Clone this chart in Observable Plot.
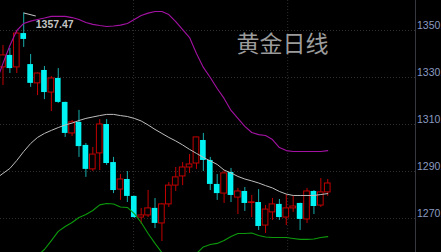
<!DOCTYPE html>
<html>
<head>
<meta charset="utf-8">
<script src="https://cdn.jsdelivr.net/npm/d3@7"></script>
<script src="https://cdn.jsdelivr.net/npm/@observablehq/plot@0.6"></script>
<style>
  html, body { margin: 0; padding: 0; background: #000; overflow: hidden; }
  #chart svg { display: block; overflow: hidden; }
</style>
</head>
<body>
<div id="chart"></div>
<script>
// ---- data ----
const title = "黄金日线";
const opens  = [1334.3,1339.4,1334.3,1348.7,1335.5,1327.5,1333.0,1323.6,1329.6,1319.4,1306.2,1310.9,1301.1,1290.9,1297.7,1310.0,1293.8,1282.3,1286.6,1279.4,1270.4,1271.3,1274.3,1267.9,1276.0,1284.0,1287.9,1291.7,1293.4,1303.2,1294.7,1284.5,1280.6,1289.6,1278.9,1281.5,1276.6,1276.8,1267.0,1272.6,1276.0,1270.4,1274.3,1276.4,1269.6,1281.5,1275.5,1281.1];
const closes = [1339.4,1333.8,1348.7,1346.2,1327.5,1331.7,1323.6,1329.6,1319.4,1306.2,1310.9,1300.6,1290.9,1297.2,1310.0,1293.4,1281.9,1286.6,1279.4,1270.4,1271.3,1274.3,1267.9,1276.0,1284.0,1287.5,1291.7,1293.0,1304.5,1294.7,1284.5,1280.6,1289.2,1279.8,1281.5,1276.4,1276.9,1266.6,1273.8,1276.0,1270.4,1274.3,1275.1,1269.6,1281.5,1275.1,1281.1,1284.9];
const highs  = [1343.6,1342.4,1350.0,1357.47,1339.8,1331.9,1334.7,1330.4,1333.8,1319.5,1311.7,1316.0,1301.9,1300.2,1312.1,1312.1,1296.0,1288.7,1290.0,1279.5,1274.3,1281.9,1278.5,1276.4,1285.3,1291.7,1293.8,1297.2,1304.6,1306.2,1296.0,1288.7,1290.4,1291.3,1282.8,1283.2,1279.8,1282.3,1275.5,1278.5,1278.1,1280.2,1279.4,1276.5,1282.8,1281.9,1287.0,1286.6];
const lows   = [1326.6,1331.7,1331.7,1342.8,1325.8,1322.3,1320.6,1315.5,1319.0,1304.5,1304.9,1296.0,1287.5,1290.0,1290.4,1292.6,1280.6,1277.7,1276.8,1270.0,1267.5,1270.4,1265.7,1260.2,1274.7,1281.5,1284.0,1289.2,1290.9,1290.0,1281.9,1277.7,1276.4,1276.8,1271.7,1273.0,1270.4,1264.9,1263.6,1269.2,1269.2,1267.0,1272.6,1264.9,1267.9,1271.7,1274.7,1279.4];
// Bollinger bands, starting one bar before the first visible candle
const bandStart = -1;
const upperBand = [1327.9,1336.0,1343.6,1350.0,1353.0,1354.0,1354.7,1355.3,1356.0,1356.0,1356.0,1355.5,1354.7,1353.4,1352.6,1352.1,1351.7,1351.9,1352.3,1353.0,1354.7,1356.4,1357.4,1358.1,1358.1,1356.8,1353.8,1350.4,1347.0,1340.2,1334.3,1330.0,1325.3,1321.1,1316.0,1312.6,1309.2,1306.6,1305.7,1305.3,1303.6,1300.2,1298.9,1298.5,1298.5,1298.5,1298.5,1298.5,1298.9];
const midBand   = [1287.0,1289.2,1291.3,1294.7,1298.5,1301.9,1304.5,1306.2,1307.5,1308.7,1309.8,1310.6,1311.7,1312.6,1313.2,1313.8,1314.3,1314.3,1313.8,1313.4,1312.6,1311.5,1309.8,1307.9,1306.2,1304.5,1303.0,1301.3,1299.4,1297.7,1296.0,1294.5,1293.0,1290.6,1289.4,1287.9,1286.8,1286.0,1285.1,1284.0,1283.0,1281.5,1280.4,1279.8,1279.8,1279.8,1279.8,1280.2,1280.6];
const lowerBand = [1246.1,1242.3,1239.0,1239.4,1244.0,1249.8,1254.2,1256.8,1260.6,1264.5,1266.6,1268.3,1270.4,1271.7,1273.4,1275.8,1276.4,1276.2,1274.9,1274.7,1272.1,1268.3,1263.6,1259.4,1255.5,1252.1,1252.2,1252.2,1251.7,1255.1,1257.9,1258.9,1259.4,1260.6,1262.3,1263.6,1263.6,1263.8,1262.8,1262.1,1261.9,1261.9,1261.9,1261.5,1261.1,1261.1,1261.3,1261.9,1262.3];
const yTicks = [1270, 1290, 1310, 1330, 1350];
const gridX = [18.9, 41.2];
const highIndex = 3;

// ---- build tables ----
const candles = opens.map((o, i) => ({i, open: o, close: closes[i], high: highs[i], low: lows[i], up: closes[i] >= o}));
const ups = candles.filter(d => d.up);
const downs = candles.filter(d => !d.up);
const band = arr => arr.map((v, k) => ({i: k + bandStart, v}));

const RED = "#c20000", CYAN = "#00f2f2", TEAL = "#18adad";
const GRID = "#2e2e2e";
const xDomain = [-0.36, 59.7];
const hw = 0.41;

const chart = Plot.plot({
  width: 441, height: 252,
  marginLeft: 0, marginRight: 26, marginTop: 0, marginBottom: 0,
  style: {background: "#000", overflow: "hidden"},
  x: {domain: xDomain, axis: null},
  y: {domain: [1255.53, 1362.77], axis: null},
  marks: [
    Plot.ruleY(yTicks, {stroke: GRID, strokeDasharray: "1,2"}),
    Plot.ruleX(gridX, {stroke: GRID, strokeDasharray: "1,2"}),
    Plot.ruleX([xDomain[1]], {stroke: "#35383f"}),
    Plot.ruleX(ups, {x: "i", y1: "low", y2: "high", stroke: RED}),
    Plot.ruleX(downs, {x: "i", y1: "low", y2: "high", stroke: TEAL}),
    Plot.rect(ups, {x1: d => d.i - hw, x2: d => d.i + hw, y1: "open", y2: "close", fill: "#000", stroke: RED}),
    Plot.rect(downs, {x1: d => d.i - hw, x2: d => d.i + hw, y1: "open", y2: "close", fill: CYAN}),
    Plot.line(band(upperBand), {x: "i", y: "v", stroke: "#a312a3", strokeWidth: 1.1, clip: true}),
    Plot.line(band(midBand), {x: "i", y: "v", stroke: "#bdbdbd", strokeWidth: 1, clip: true}),
    Plot.line(band(lowerBand), {x: "i", y: "v", stroke: "#0c9a0c", strokeWidth: 1.1, clip: true}),
    Plot.link([candles[highIndex]], {x1: "i", y1: "high", x2: d => d.i + 1.75, y2: d => d.high - 1.3, stroke: "#c8c8c8"}),
    Plot.text([candles[highIndex]], {x: "i", y: "high", text: d => d.high.toFixed(2), dx: 12, dy: 11.5, textAnchor: "start", fill: "#c4c4c4", fontSize: 10.5, fontWeight: "bold", fontFamily: "Liberation Sans"}),
    Plot.text(yTicks, {y: d => d, text: d => d.toFixed(1), frameAnchor: "right", textAnchor: "start", dx: 1.5, dy: -5, fill: "#8a9ac2", fontSize: 10.5, fontFamily: "Liberation Sans"}),
    Plot.text([title], {frameAnchor: "top-left", dx: 236, dy: 35, textAnchor: "start", fill: "#9c9c9c", fontSize: 23, fontFamily: "Noto Sans CJK SC"})
  ]
});
document.getElementById("chart").appendChild(chart);
</script>
</body>
</html>
